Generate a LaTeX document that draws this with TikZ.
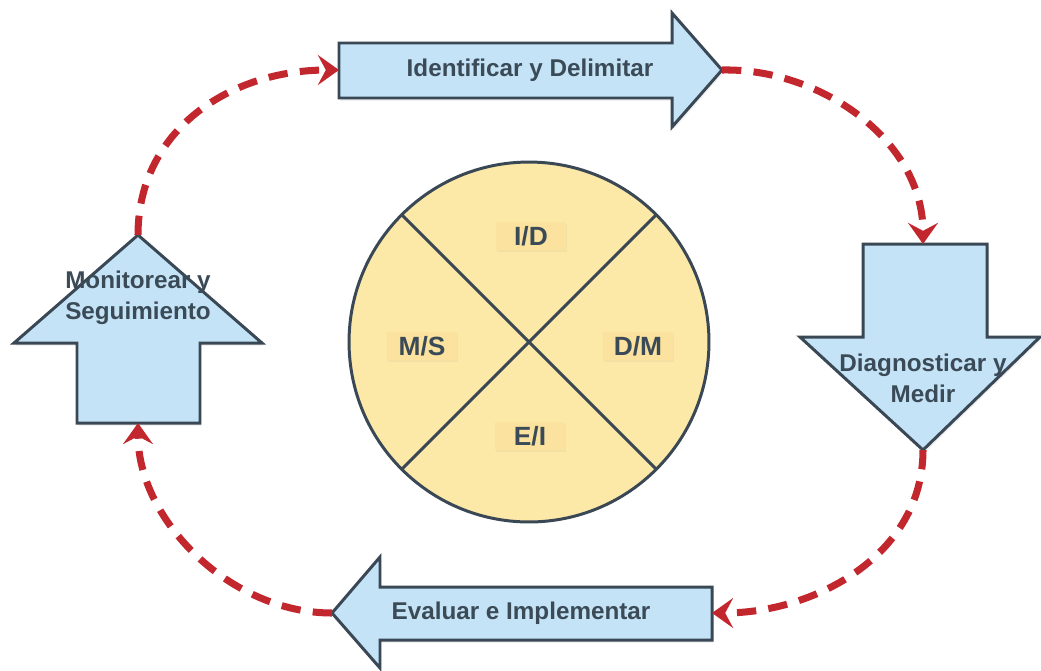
\documentclass[tikz,border=0pt]{standalone}
\usepackage{fontspec}
\setmainfont{Liberation Sans}
\usetikzlibrary{arrows.meta,shadows}

\definecolor{skyfill}{HTML}{C5E3F6}
\definecolor{edge}{HTML}{3A4856}
\definecolor{ink}{HTML}{3B4A57}
\definecolor{wheelfill}{HTML}{FDE9A7}
\definecolor{tagfill}{HTML}{FBE29E}
\definecolor{flowred}{HTML}{C1272D}

\begin{document}
\begin{tikzpicture}[x=0.02cm,y=-0.02cm,
  stepshape/.style={draw=edge, fill=skyfill, line width=1.7pt, line join=miter,
    drop shadow={opacity=0.12, shadow xshift=0.8pt, shadow yshift=-1.6pt}},
  steptext/.style={text=ink, font=\fontsize{13.8}{17.6}\selectfont\bfseries,
    align=center, inner sep=0pt},
  flow/.style={draw=flowred, line width=4pt, dash pattern=on 11pt off 7pt,
    -{Stealth[length=12pt,width=17pt,inset=4.5pt]}},
  quad/.style={fill=tagfill, text=ink, font=\fontsize{15}{17}\selectfont\bfseries,
    minimum width=1.4cm, minimum height=0.56cm, inner sep=0pt,
    drop shadow={opacity=0.08, shadow xshift=0.6pt, shadow yshift=-1.2pt}},
]
\useasboundingbox (0,0) rectangle (1041,670);

% --- step arrows ---------------------------------------------------------
% Identificar y Delimitar (points right)
\draw[stepshape] (339,43) -- (672,43) -- (672,13) -- (722,70) -- (672,127)
  -- (672,98) -- (339,98) -- cycle;
\coordinate (identTail) at (339,70);
\coordinate (identTip) at (722,70);
\node[steptext] (ident) at (530,70) {Identificar y Delimitar};

% Diagnosticar y Medir (points down)
\draw[stepshape] (863,244) -- (987,244) -- (987,337) -- (1040,337) -- (923,450)
  -- (800,337) -- (863,337) -- cycle;
\coordinate (diagTail) at (923,244);
\coordinate (diagTip) at (923,450);
\node[steptext] (diag) at (923,378) {Diagnosticar y\\Medir};

% Evaluar e Implementar (points left)
\draw[stepshape] (332,613) -- (380,557) -- (380,587) -- (712,587) -- (712,640)
  -- (380,640) -- (380,668) -- cycle;
\coordinate (evalTail) at (712,613);
\coordinate (evalTip) at (332,613);
\node[steptext] (eval) at (521,613) {Evaluar e Implementar};

% Monitorear y Seguimiento (points up)
\draw[stepshape] (138,235) -- (262,343) -- (200,343) -- (200,423) -- (77,423)
  -- (77,343) -- (14,343) -- cycle;
\coordinate (monitTail) at (138,423);
\coordinate (monitTip) at (138,235);
\node[steptext] (monit) at (138,298) {Monitorear y\\Seguimiento};

% --- central wheel -------------------------------------------------------
\node[circle, draw=edge, fill=wheelfill, line width=1.7pt, minimum size=7.2cm,
  inner sep=0pt, outer sep=0pt] (wheel) at (529,342) {};
\draw[edge, line width=1.7pt] (wheel.135) -- (wheel.-45);
\draw[edge, line width=1.7pt] (wheel.45) -- (wheel.-135);

\node[quad] (qID) at (531,236) {I/D};
\node[quad] (qMS) at (422,346) {M/S};
\node[quad] (qDM) at (638,346) {D/M};
\node[quad] (qEI) at (530,436) {E/I};

% --- cycle connectors ----------------------------------------------------
\draw[flow] (monitTip) .. controls (138,130) and (230,70) .. (identTail);
\draw[flow] (identTip) .. controls (820,68) and (923,140) .. (diagTail);
\draw[flow] (diagTip) .. controls (923,555) and (815,613) .. (evalTail);
\draw[flow] (evalTip) .. controls (230,613) and (138,520) .. (monitTail);
\end{tikzpicture}
\end{document}
